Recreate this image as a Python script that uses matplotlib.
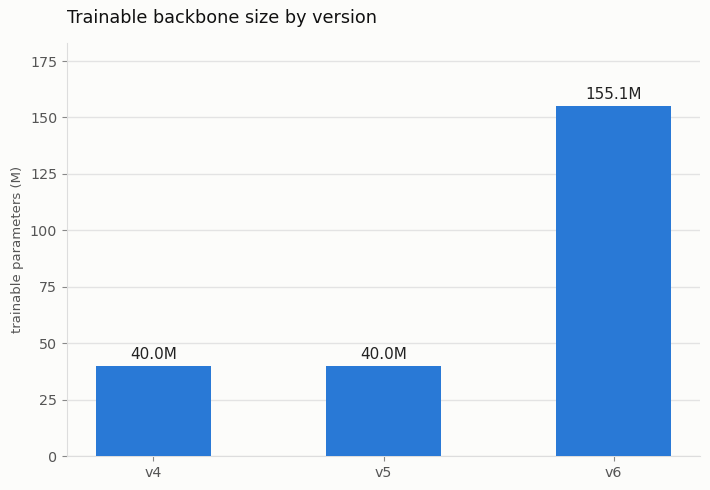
import matplotlib
matplotlib.use("Agg")
import matplotlib.pyplot as plt

versions = ["v4", "v5", "v6"]
params_m = [40.0, 40.0, 155.1]

bg = "#fcfcfa"
fig = plt.figure(figsize=(7.1, 4.9), dpi=100, facecolor=bg)
ax = fig.add_axes([67 / 710, 1 - 456 / 490, 633 / 710, 413 / 490], facecolor=bg)

x = list(range(len(versions)))
bars = ax.bar(x, params_m, width=0.5, color="#2979d6", zorder=3)
for b, v in zip(bars, params_m):
    ax.annotate(f"{v:.1f}M", (b.get_x() + b.get_width() / 2, v), xytext=(0, 3),
                textcoords="offset points", ha="center", va="bottom", fontsize=11, color="#222222")

ax.set_xticks(x)
ax.set_xticklabels(versions)
ax.set_xlim(-0.375, 2.375)
ax.set_ylim(0, 183)
ax.set_yticks([0, 25, 50, 75, 100, 125, 150, 175])
ax.set_ylabel("trainable parameters (M)", fontsize=9.5, color="#555555")
ax.grid(axis="y", color="#e3e3e3", linewidth=1, zorder=0)
for s in ["top", "right"]:
    ax.spines[s].set_visible(False)
for s in ["left", "bottom"]:
    ax.spines[s].set_color("#dddddd")
ax.tick_params(colors="#555555", labelsize=10.3)
ax.tick_params(axis="both", color="#888888")
fig.text(67 / 710, 1 - 18 / 490, "Trainable backbone size by version", fontsize=12.7,
         ha="left", va="center", color="#111111")

fig.savefig("out.png", dpi=100, facecolor=bg)
